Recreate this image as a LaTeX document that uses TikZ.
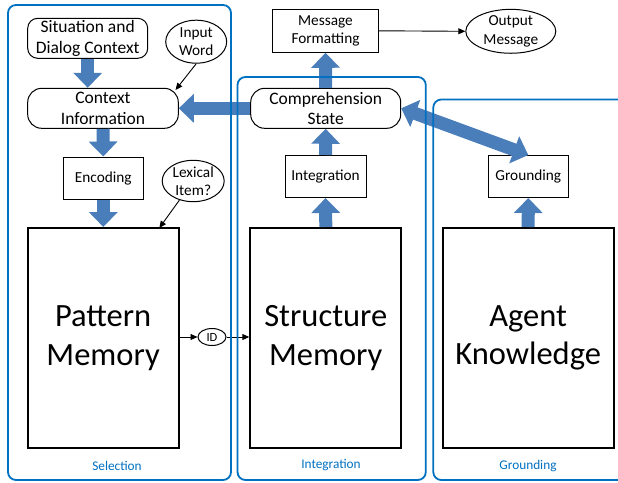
\documentclass[tikz,border=0pt]{standalone}
\usepackage{fontspec}
\setmainfont{Carlito}
\usetikzlibrary{arrows.meta,shapes.geometric,calc}
\definecolor{panelblue}{RGB}{0,112,192}
\definecolor{fatblue}{RGB}{74,126,187}

\begin{document}
\begin{tikzpicture}[x=1pt,y=-1pt,
  box/.style={draw=black, line width=1pt, fill=white, inner sep=0pt, align=center,
    font=\fontsize{15.3}{18.5}\selectfont},
  rbox/.style={box, font=\fontsize{17.5}{20.5}\selectfont},
  oval/.style={box, ellipse},
  memory/.style={draw=black, line width=2pt, fill=white, inner sep=0pt, align=center,
    minimum width=151pt, minimum height=220pt, font=\fontsize{32.5}{38.7}\selectfont},
  panel/.style={draw=panelblue, line width=1.8pt, rounded corners=8pt},
  panellabel/.style={text=panelblue, inner sep=0pt, font=\fontsize{13.3}{15}\selectfont},
  fat/.style={line width=13pt, draw=fatblue, -{Triangle[width=28pt,length=15pt]}},
  fatboth/.style={line width=13pt, draw=fatblue,
    {Triangle[width=28pt,length=15pt]}-{Triangle[width=28pt,length=15pt]}},
  thin/.style={draw=black, line width=0.9pt, -{Triangle[length=7pt,width=6pt]}}
]
\useasboundingbox (0,0) rectangle (618,482);
\clip (0,0) rectangle (618,482);

% Selection column
\node[rbox, rounded corners=10pt, minimum width=120pt, minimum height=40pt] (sit) at (87.7,38.3) {Situation and\\Dialog Context};
\node[oval, minimum width=61pt, minimum height=43pt] (iw) at (196.2,41.7) {Input\\Word};
\node[rbox, rounded corners=14pt, minimum width=150.6pt, minimum height=40pt] (ctx) at (103,108.3) {Context\\Information};
\node[box, minimum width=80pt, minimum height=42pt] (enc) at (103.3,178) {Encoding};
\node[oval, minimum width=62pt, minimum height=38pt] (lex) at (193.2,181) {Lexical\\Item?};
\node[memory] (pm) at (103.1,338) {Pattern\\Memory};
\node[oval, minimum width=28pt, minimum height=17pt, font=\fontsize{12.5}{14}\selectfont] (id) at (212,337) {ID};

% Integration column
\node[box, minimum width=105.6pt, minimum height=43pt] (mf) at (325.5,30.8) {Message\\Formatting};
\node[oval, minimum width=90pt, minimum height=37pt] (om) at (510.8,31.3) {Output\\Message};
\node[rbox, rounded corners=14pt, minimum width=150pt, minimum height=40pt] (comp) at (325.7,108.3) {Comprehension\\State};
\node[box, minimum width=81pt, minimum height=42pt] (integ) at (325.5,176.5) {Integration};
\node[memory] (sm) at (325.8,338) {Structure\\Memory};

% Grounding column
\node[box, minimum width=80pt, minimum height=42pt] (ground) at (528.3,176.5) {Grounding};
\node[memory, minimum width=171pt] (ak) at (528.2,338) {Agent\\Knowledge};

% Thick flow arrows
\draw[fat] (sit.south) -- (sit.south |- ctx.north);
\draw[fat] (ctx.south) -- (enc.north);
\draw[fat] (enc.south) -- (enc.south |- pm.north);
\draw[fat] (comp.west) -- (ctx.east);
\draw[fat] (comp.north) -- (mf.south);
\draw[fat] (integ.north) -- (comp.south);
\draw[fat] (sm.north) -- (integ.south);
\draw[fat] (ak.north) -- (ground.south);
\draw[fatboth] (comp.east) -- (ground.north);

% Thin arrows
\coordinate (ctxhit) at ([xshift=-3.3pt,yshift=-2.2pt]ctx.north east);
\coordinate (pmhit) at (159.3,228);
\draw[thin] (iw.south) -- (ctxhit);
\draw[thin] (lex) -- (pmhit);
\draw[thin] (mf.east) -- (om.west);
\draw[thin] (pm.east |- id.west) -- (id.west);
\draw[thin] (id.east) -- (id.east -| sm.west);

% Panels
\draw[panel] (8,5) rectangle (231,480);
\draw[panel] (237.5,77) rectangle (425.8,480);
\draw[panel] (433.3,99.5) rectangle (640,480);
\node[panellabel] (selL) at (117,466) {Selection};
\node[panellabel] (intL) at (331,465) {Integration};
\node[panellabel] (grdL) at (528,466) {Grounding};
\end{tikzpicture}
\end{document}
